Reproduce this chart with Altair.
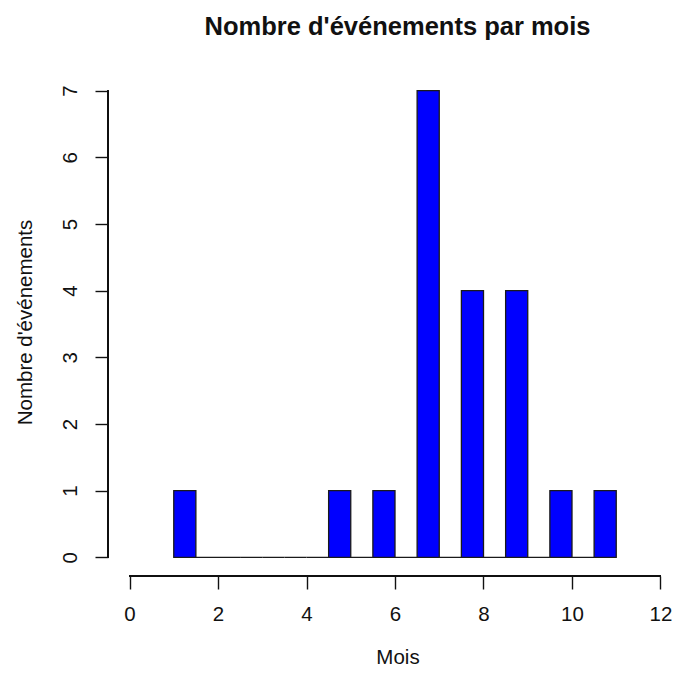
import altair as alt
import pandas as pd

# histogram breaks (bin edges) and counts per bin
breaks = [1.0, 1.5, 2.0, 2.5, 3.0, 3.5, 4.0, 4.5, 5.0, 5.5, 6.0,
          6.5, 7.0, 7.5, 8.0, 8.5, 9.0, 9.5, 10.0, 10.5, 11.0]
counts = [1, 0, 0, 0, 0, 0, 0, 1, 0, 1, 0, 7, 0, 4, 0, 4, 0, 1, 0, 1]

x_ticks = [0, 2, 4, 6, 8, 10, 12]
y_ticks = [0, 1, 2, 3, 4, 5, 6, 7]

title_text = "Nombre d'événements par mois"
x_title = "Mois"
y_title = "Nombre d'événements"

df = pd.DataFrame({
    "start": breaks[:-1],
    "end": breaks[1:],
    "count": counts,
    "zero": [0] * len(counts),
})

W, H = 564, 504
FONT = "Liberation Sans"
INK = "#111111"

x_scale = alt.Scale(domain=[-0.486, 12.26], nice=False, zero=False)
y_scale = alt.Scale(domain=[-0.28, 7.28], nice=False, zero=False)

x_axis = alt.Axis(values=x_ticks, domain=False, grid=False, tickSize=13,
                  tickWidth=1.4, tickColor=INK, labelFont=FONT, labelFontSize=20.5,
                  labelColor=INK, labelPadding=15, labelFlush=False,
                  title=x_title, titleFont=FONT, titleFontSize=20.5,
                  titleFontWeight="normal", titleColor=INK,
                  titleX=289.5, titleY=87, titleAlign="center",
                  titleBaseline="alphabetic", titleAnchor="start", format="d")
y_axis = alt.Axis(values=y_ticks, domain=False, grid=False, tickSize=13,
                  tickWidth=1.4, tickColor=INK, labelFont=FONT, labelFontSize=20.5,
                  labelColor=INK, labelAngle=270, labelAlign="center",
                  labelBaseline="alphabetic", labelPadding=19, labelFlush=False,
                  title=y_title, titleFont=FONT, titleFontSize=20.5,
                  titleFontWeight="normal", titleColor=INK, titleAngle=270,
                  titleX=-77, titleY=250, titleAlign="center",
                  titleBaseline="alphabetic", titleAnchor="start", format="d")

bars = alt.Chart(df).mark_rect(fill="#0000FF", stroke="#1a1a1a", strokeWidth=1.3).encode(
    x=alt.X("start:Q", scale=x_scale, axis=x_axis),
    x2="end:Q",
    y=alt.Y("count:Q", scale=y_scale, axis=y_axis),
    y2="zero:Q",
)

x_line = alt.Chart(df).mark_rule(color=INK, strokeWidth=1.4).encode(
    x=alt.datum(min(x_ticks)),
    x2=alt.datum(max(x_ticks)),
    y=alt.value(H),
)
y_line = alt.Chart(df).mark_rule(color=INK, strokeWidth=1.4).encode(
    x=alt.value(0),
    y=alt.datum(min(y_ticks)),
    y2=alt.datum(max(y_ticks)),
)

chart = alt.layer(bars, x_line, y_line).properties(
    width=W,
    height=H,
    background="white",
    autosize=alt.AutoSizeParams(type="none"),
    padding={"left": 100, "top": 64, "right": 0, "bottom": 93},
    title=alt.TitleParams(title_text, font=FONT, fontSize=25.5, fontWeight="bold",
                          color=INK, anchor="middle", frame="group", dx=7.5,
                          baseline="alphabetic", offset=12),
).configure_view(strokeWidth=0, stroke="transparent")

chart.save("out.html", embed_options={"renderer": "svg", "actions": False})
